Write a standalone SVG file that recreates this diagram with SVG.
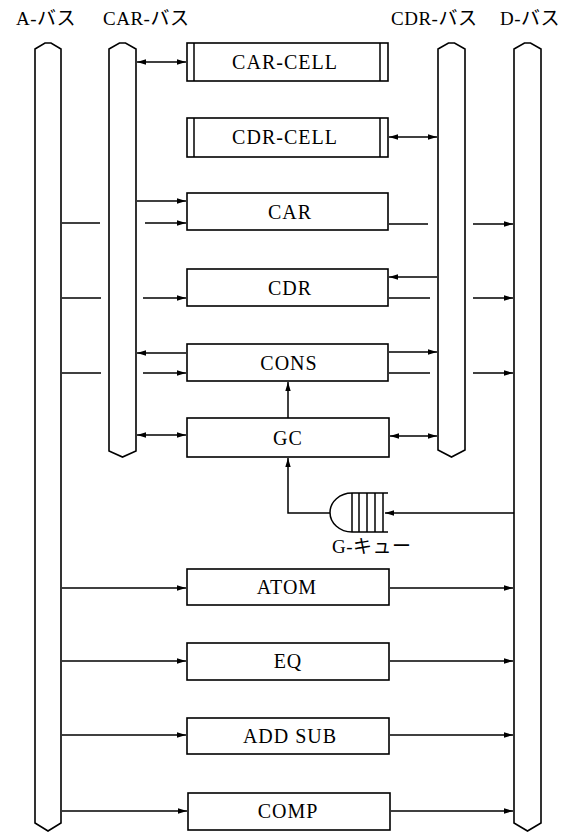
<svg xmlns="http://www.w3.org/2000/svg" width="574" height="832" viewBox="0 0 574 832">
<style>
.bus{fill:#fff;stroke:#000;stroke-width:1.6}
.box{fill:#fff;stroke:#000;stroke-width:1.6}
.ln{fill:none;stroke:#000;stroke-width:1.5}
.t{font-family:"Liberation Serif","Noto Sans CJK JP",serif;font-size:20px;fill:#000;text-anchor:middle;letter-spacing:1px}
.lb{font-family:"Liberation Serif","Noto Sans CJK JP",serif;font-size:19px;fill:#000;letter-spacing:0.5px}
</style>
<defs>
<marker id="ah" viewBox="0 0 10 6" refX="10" refY="3" markerWidth="9" markerHeight="5.5" markerUnits="userSpaceOnUse" orient="auto-start-reverse">
<path d="M0,0 L10,3 L0,6 z" fill="#000"/>
</marker>
</defs>
<rect width="574" height="832" fill="#fff"/>

<g id="labels">
<text class="lb" x="16" y="25">A-バス</text>
<text class="lb" x="103" y="25">CAR-バス</text>
<text class="lb" x="391" y="25">CDR-バス</text>
<text class="lb" x="500" y="25">D-バス</text>
</g>

<g id="a-bus"><polygon class="bus" points="35,49 45,43 51,43 61,49 61,823 48,831 35,823"/></g>
<g id="car-bus"><polygon class="bus" points="109,49 119.5,43 125.5,43 136,49 136,451 122.5,457 109,451"/></g>
<g id="cdr-bus"><polygon class="bus" points="438,49 448.5,43 454.5,43 465,49 465,450 451.5,457 438,450"/></g>
<g id="d-bus"><polygon class="bus" points="514,49 524.5,43 530.5,43 541,49 541,823 527.5,831 514,823"/></g>

<g id="car-cell">
<rect class="box" x="187" y="43" width="201" height="38"/>
<line class="ln" x1="194" y1="43" x2="194" y2="81"/>
<line class="ln" x1="380" y1="43" x2="380" y2="81"/>
<text class="t" x="285" y="69">CAR-CELL</text>
</g>
<g id="cdr-cell">
<rect class="box" x="187" y="118" width="201" height="39"/>
<line class="ln" x1="194" y1="118" x2="194" y2="157"/>
<line class="ln" x1="380" y1="118" x2="380" y2="157"/>
<text class="t" x="285" y="144">CDR-CELL</text>
</g>
<g id="car"><rect class="box" x="187" y="193" width="201" height="37"/><text class="t" x="290" y="219">CAR</text></g>
<g id="cdr"><rect class="box" x="187" y="269" width="201" height="37"/><text class="t" x="290" y="295">CDR</text></g>
<g id="cons"><rect class="box" x="187" y="344" width="201" height="37"/><text class="t" x="289" y="370">CONS</text></g>
<g id="gc"><rect class="box" x="187" y="418" width="202" height="39"/><text class="t" x="288" y="445">GC</text></g>
<g id="g-queue">
<path class="ln" d="M388,493 H352 A22,19.5 0 0 0 352,532 H388"/>
<line class="ln" x1="352" y1="493" x2="352" y2="532"/>
<line class="ln" x1="359" y1="493" x2="359" y2="532"/>
<line class="ln" x1="367" y1="493" x2="367" y2="532"/>
<line class="ln" x1="375" y1="493" x2="375" y2="532"/>
<line class="ln" x1="383" y1="493" x2="383" y2="532"/>
<text class="lb" x="332" y="553">G-キュー</text>
</g>
<g id="atom"><rect class="box" x="187" y="569" width="202" height="36"/><text class="t" x="287" y="594">ATOM</text></g>
<g id="eq"><rect class="box" x="187" y="643" width="202" height="37"/><text class="t" x="288" y="668">EQ</text></g>
<g id="addsub"><rect class="box" x="187" y="718" width="202" height="36"/><text class="t" x="290" y="743">ADD SUB</text></g>
<g id="comp"><rect class="box" x="188" y="793" width="202" height="37"/><text class="t" x="288" y="818">COMP</text></g>

<g id="connectors">
<path class="ln" d="M137,62 H186" marker-start="url(#ah)" marker-end="url(#ah)"/>
<path class="ln" d="M389,137 H437" marker-start="url(#ah)" marker-end="url(#ah)"/>
<path class="ln" d="M137,201 H186" marker-end="url(#ah)"/>
<path class="ln" d="M62,223 H100"/>
<path class="ln" d="M145,223 H186" marker-end="url(#ah)"/>
<path class="ln" d="M389,224 H428"/>
<path class="ln" d="M473,224 H513" marker-end="url(#ah)"/>
<path class="ln" d="M437,277 H389" marker-end="url(#ah)"/>
<path class="ln" d="M62,298 H101"/>
<path class="ln" d="M143,298 H186" marker-end="url(#ah)"/>
<path class="ln" d="M389,298 H430"/>
<path class="ln" d="M473,298 H513" marker-end="url(#ah)"/>
<path class="ln" d="M186,353 H137" marker-end="url(#ah)"/>
<path class="ln" d="M62,373 H101"/>
<path class="ln" d="M143,373 H186" marker-end="url(#ah)"/>
<path class="ln" d="M389,352 H437" marker-end="url(#ah)"/>
<path class="ln" d="M389,373 H430"/>
<path class="ln" d="M473,373 H513" marker-end="url(#ah)"/>
<path class="ln" d="M137,435 H186" marker-start="url(#ah)" marker-end="url(#ah)"/>
<path class="ln" d="M390,436 H437" marker-start="url(#ah)" marker-end="url(#ah)"/>
<path class="ln" d="M288,418 V382" marker-end="url(#ah)"/>
<path class="ln" d="M330,513 H288 V458" marker-end="url(#ah)"/>
<path class="ln" d="M514,513 H385" marker-end="url(#ah)"/>
<path class="ln" d="M62,588 H186" marker-end="url(#ah)"/>
<path class="ln" d="M390,588 H513" marker-end="url(#ah)"/>
<path class="ln" d="M62,661 H186" marker-end="url(#ah)"/>
<path class="ln" d="M390,661 H513" marker-end="url(#ah)"/>
<path class="ln" d="M62,735 H186" marker-end="url(#ah)"/>
<path class="ln" d="M390,735 H513" marker-end="url(#ah)"/>
<path class="ln" d="M62,811 H187" marker-end="url(#ah)"/>
<path class="ln" d="M391,811 H513" marker-end="url(#ah)"/>
</g>
</svg>
